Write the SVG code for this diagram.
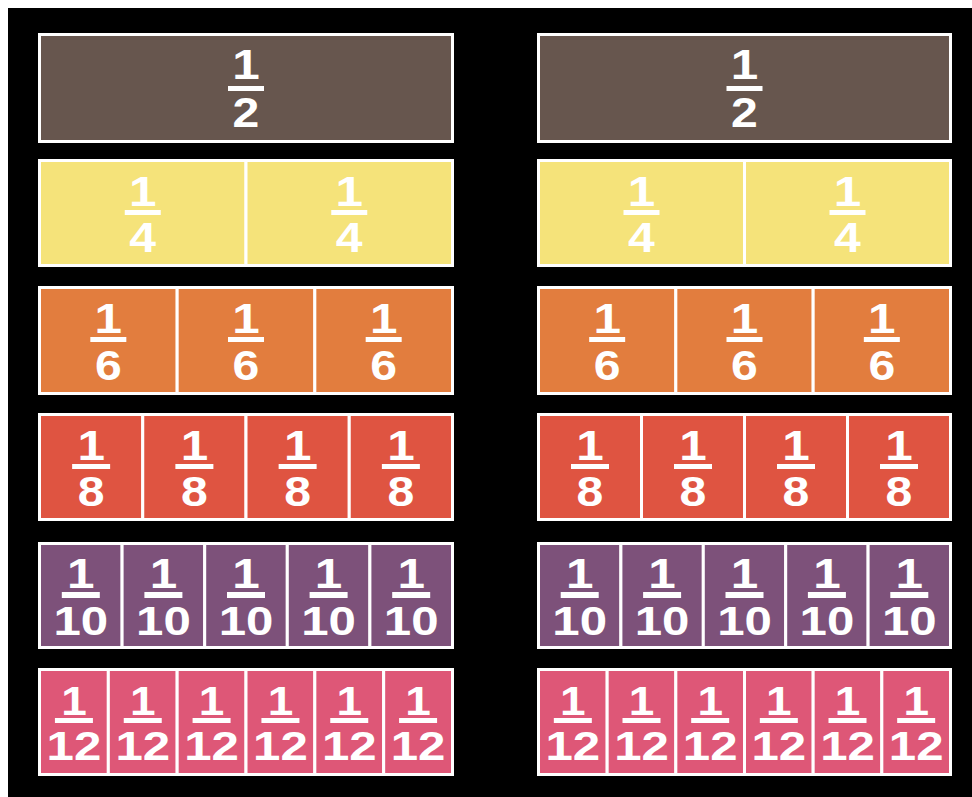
<svg xmlns="http://www.w3.org/2000/svg" width="972" height="797" viewBox="0 0 972 797">
<style>
.c{stroke:#ffffff;stroke-width:3}
.h2{fill:#67564E}.h4{fill:#F5E37A}.h6{fill:#E27D3E}.h8{fill:#DF5441}.h10{fill:#7D517A}.h12{fill:#DE5777}
text{font-family:"Liberation Sans",Arial,sans-serif;font-weight:bold;fill:#ffffff;text-anchor:middle}
.n{font-size:43px;transform:scale(1.15,1)}
.d{font-size:43px;transform:scale(1.12,1)}
.dd{font-size:41px;transform:scale(1.2,1)}
.n6{font-size:40px;transform:scale(1.15,1)}
.b{fill:#ffffff}
</style>
<rect x="0" y="0" width="972" height="797" fill="#ffffff"/>
<rect x="8" y="8" width="964" height="789" fill="#000000"/>

<!-- Row 1: halves -->
<g id="L-half-1"><rect class="c h2" x="39.5" y="34.5" width="413" height="107"/>
<g transform="translate(246,33)"><text class="n" y="46">1</text><rect class="b" x="-18" y="53" width="36" height="5"/><text class="d" y="94">2</text></g></g>
<g id="R-half-1"><rect class="c h2" x="538.5" y="34.5" width="412" height="107"/>
<g transform="translate(744.5,33)"><text class="n" y="46">1</text><rect class="b" x="-18" y="53" width="36" height="5"/><text class="d" y="94">2</text></g></g>

<!-- Row 2: quarters -->
<g id="L-quarter-1"><rect class="c h4" x="39.5" y="160.5" width="206.5" height="105"/>
<g transform="translate(142.75,159)"><text class="n" y="47">1</text><rect class="b" x="-18" y="51" width="36" height="5"/><text class="d" y="93">4</text></g></g>
<g id="L-quarter-2"><rect class="c h4" x="246" y="160.5" width="206.5" height="105"/>
<g transform="translate(349.25,159)"><text class="n" y="47">1</text><rect class="b" x="-18" y="51" width="36" height="5"/><text class="d" y="93">4</text></g></g>
<g id="R-quarter-1"><rect class="c h4" x="538.5" y="160.5" width="206" height="105"/>
<g transform="translate(641.5,159)"><text class="n" y="47">1</text><rect class="b" x="-18" y="51" width="36" height="5"/><text class="d" y="93">4</text></g></g>
<g id="R-quarter-2"><rect class="c h4" x="744.5" y="160.5" width="206" height="105"/>
<g transform="translate(847.5,159)"><text class="n" y="47">1</text><rect class="b" x="-18" y="51" width="36" height="5"/><text class="d" y="93">4</text></g></g>

<!-- Row 3: sixths -->
<g id="L-sixth-1"><rect class="c h6" x="39.5" y="287.5" width="137.67" height="106"/>
<g transform="translate(108.33,286)"><text class="n" y="47">1</text><rect class="b" x="-18" y="51" width="36" height="5"/><text class="d" y="94">6</text></g></g>
<g id="L-sixth-2"><rect class="c h6" x="177.17" y="287.5" width="137.67" height="106"/>
<g transform="translate(246,286)"><text class="n" y="47">1</text><rect class="b" x="-18" y="51" width="36" height="5"/><text class="d" y="94">6</text></g></g>
<g id="L-sixth-3"><rect class="c h6" x="314.83" y="287.5" width="137.67" height="106"/>
<g transform="translate(383.67,286)"><text class="n" y="47">1</text><rect class="b" x="-18" y="51" width="36" height="5"/><text class="d" y="94">6</text></g></g>
<g id="R-sixth-1"><rect class="c h6" x="538.5" y="287.5" width="137.33" height="106"/>
<g transform="translate(607.17,286)"><text class="n" y="47">1</text><rect class="b" x="-18" y="51" width="36" height="5"/><text class="d" y="94">6</text></g></g>
<g id="R-sixth-2"><rect class="c h6" x="675.83" y="287.5" width="137.33" height="106"/>
<g transform="translate(744.5,286)"><text class="n" y="47">1</text><rect class="b" x="-18" y="51" width="36" height="5"/><text class="d" y="94">6</text></g></g>
<g id="R-sixth-3"><rect class="c h6" x="813.17" y="287.5" width="137.33" height="106"/>
<g transform="translate(881.83,286)"><text class="n" y="47">1</text><rect class="b" x="-18" y="51" width="36" height="5"/><text class="d" y="94">6</text></g></g>

<!-- Row 4: eighths -->
<g id="L-eighth-1"><rect class="c h8" x="39.5" y="414.5" width="103.25" height="105"/>
<g transform="translate(91.13,413)"><text class="n" y="47">1</text><rect class="b" x="-19" y="51" width="38" height="5"/><text class="d" y="93">8</text></g></g>
<g id="L-eighth-2"><rect class="c h8" x="142.75" y="414.5" width="103.25" height="105"/>
<g transform="translate(194.38,413)"><text class="n" y="47">1</text><rect class="b" x="-19" y="51" width="38" height="5"/><text class="d" y="93">8</text></g></g>
<g id="L-eighth-3"><rect class="c h8" x="246" y="414.5" width="103.25" height="105"/>
<g transform="translate(297.63,413)"><text class="n" y="47">1</text><rect class="b" x="-19" y="51" width="38" height="5"/><text class="d" y="93">8</text></g></g>
<g id="L-eighth-4"><rect class="c h8" x="349.25" y="414.5" width="103.25" height="105"/>
<g transform="translate(400.88,413)"><text class="n" y="47">1</text><rect class="b" x="-19" y="51" width="38" height="5"/><text class="d" y="93">8</text></g></g>
<g id="R-eighth-1"><rect class="c h8" x="538.5" y="414.5" width="103" height="105"/>
<g transform="translate(590,413)"><text class="n" y="47">1</text><rect class="b" x="-19" y="51" width="38" height="5"/><text class="d" y="93">8</text></g></g>
<g id="R-eighth-2"><rect class="c h8" x="641.5" y="414.5" width="103" height="105"/>
<g transform="translate(693,413)"><text class="n" y="47">1</text><rect class="b" x="-19" y="51" width="38" height="5"/><text class="d" y="93">8</text></g></g>
<g id="R-eighth-3"><rect class="c h8" x="744.5" y="414.5" width="103" height="105"/>
<g transform="translate(796,413)"><text class="n" y="47">1</text><rect class="b" x="-19" y="51" width="38" height="5"/><text class="d" y="93">8</text></g></g>
<g id="R-eighth-4"><rect class="c h8" x="847.5" y="414.5" width="103" height="105"/>
<g transform="translate(899,413)"><text class="n" y="47">1</text><rect class="b" x="-19" y="51" width="38" height="5"/><text class="d" y="93">8</text></g></g>

<!-- Row 5: tenths -->
<g id="L-tenth-1"><rect class="c h10" x="39.5" y="543.5" width="82.6" height="104"/>
<g transform="translate(80.8,542)"><text class="n" y="46">1</text><rect class="b" x="-19" y="50" width="38" height="6"/><text class="dd" y="93">10</text></g></g>
<g id="L-tenth-2"><rect class="c h10" x="122.1" y="543.5" width="82.6" height="104"/>
<g transform="translate(163.4,542)"><text class="n" y="46">1</text><rect class="b" x="-19" y="50" width="38" height="6"/><text class="dd" y="93">10</text></g></g>
<g id="L-tenth-3"><rect class="c h10" x="204.7" y="543.5" width="82.6" height="104"/>
<g transform="translate(246,542)"><text class="n" y="46">1</text><rect class="b" x="-19" y="50" width="38" height="6"/><text class="dd" y="93">10</text></g></g>
<g id="L-tenth-4"><rect class="c h10" x="287.3" y="543.5" width="82.6" height="104"/>
<g transform="translate(328.6,542)"><text class="n" y="46">1</text><rect class="b" x="-19" y="50" width="38" height="6"/><text class="dd" y="93">10</text></g></g>
<g id="L-tenth-5"><rect class="c h10" x="369.9" y="543.5" width="82.6" height="104"/>
<g transform="translate(411.2,542)"><text class="n" y="46">1</text><rect class="b" x="-19" y="50" width="38" height="6"/><text class="dd" y="93">10</text></g></g>
<g id="R-tenth-1"><rect class="c h10" x="538.5" y="543.5" width="82.4" height="104"/>
<g transform="translate(579.7,542)"><text class="n" y="46">1</text><rect class="b" x="-19" y="50" width="38" height="6"/><text class="dd" y="93">10</text></g></g>
<g id="R-tenth-2"><rect class="c h10" x="620.9" y="543.5" width="82.4" height="104"/>
<g transform="translate(662.1,542)"><text class="n" y="46">1</text><rect class="b" x="-19" y="50" width="38" height="6"/><text class="dd" y="93">10</text></g></g>
<g id="R-tenth-3"><rect class="c h10" x="703.3" y="543.5" width="82.4" height="104"/>
<g transform="translate(744.5,542)"><text class="n" y="46">1</text><rect class="b" x="-19" y="50" width="38" height="6"/><text class="dd" y="93">10</text></g></g>
<g id="R-tenth-4"><rect class="c h10" x="785.7" y="543.5" width="82.4" height="104"/>
<g transform="translate(826.9,542)"><text class="n" y="46">1</text><rect class="b" x="-19" y="50" width="38" height="6"/><text class="dd" y="93">10</text></g></g>
<g id="R-tenth-5"><rect class="c h10" x="868.1" y="543.5" width="82.4" height="104"/>
<g transform="translate(909.3,542)"><text class="n" y="46">1</text><rect class="b" x="-19" y="50" width="38" height="6"/><text class="dd" y="93">10</text></g></g>

<!-- Row 6: twelfths -->
<g id="L-twelfth-1"><rect class="c h12" x="39.5" y="669.5" width="68.83" height="105"/>
<g transform="translate(73.92,668)"><text class="n6" y="47">1</text><rect class="b" x="-19" y="50" width="38" height="5"/><text class="dd" y="92">12</text></g></g>
<g id="L-twelfth-2"><rect class="c h12" x="108.33" y="669.5" width="68.83" height="105"/>
<g transform="translate(142.75,668)"><text class="n6" y="47">1</text><rect class="b" x="-19" y="50" width="38" height="5"/><text class="dd" y="92">12</text></g></g>
<g id="L-twelfth-3"><rect class="c h12" x="177.17" y="669.5" width="68.83" height="105"/>
<g transform="translate(211.58,668)"><text class="n6" y="47">1</text><rect class="b" x="-19" y="50" width="38" height="5"/><text class="dd" y="92">12</text></g></g>
<g id="L-twelfth-4"><rect class="c h12" x="246" y="669.5" width="68.83" height="105"/>
<g transform="translate(280.42,668)"><text class="n6" y="47">1</text><rect class="b" x="-19" y="50" width="38" height="5"/><text class="dd" y="92">12</text></g></g>
<g id="L-twelfth-5"><rect class="c h12" x="314.83" y="669.5" width="68.83" height="105"/>
<g transform="translate(349.25,668)"><text class="n6" y="47">1</text><rect class="b" x="-19" y="50" width="38" height="5"/><text class="dd" y="92">12</text></g></g>
<g id="L-twelfth-6"><rect class="c h12" x="383.67" y="669.5" width="68.83" height="105"/>
<g transform="translate(418.08,668)"><text class="n6" y="47">1</text><rect class="b" x="-19" y="50" width="38" height="5"/><text class="dd" y="92">12</text></g></g>
<g id="R-twelfth-1"><rect class="c h12" x="538.5" y="669.5" width="68.67" height="105"/>
<g transform="translate(572.83,668)"><text class="n6" y="47">1</text><rect class="b" x="-19" y="50" width="38" height="5"/><text class="dd" y="92">12</text></g></g>
<g id="R-twelfth-2"><rect class="c h12" x="607.17" y="669.5" width="68.67" height="105"/>
<g transform="translate(641.5,668)"><text class="n6" y="47">1</text><rect class="b" x="-19" y="50" width="38" height="5"/><text class="dd" y="92">12</text></g></g>
<g id="R-twelfth-3"><rect class="c h12" x="675.83" y="669.5" width="68.67" height="105"/>
<g transform="translate(710.17,668)"><text class="n6" y="47">1</text><rect class="b" x="-19" y="50" width="38" height="5"/><text class="dd" y="92">12</text></g></g>
<g id="R-twelfth-4"><rect class="c h12" x="744.5" y="669.5" width="68.67" height="105"/>
<g transform="translate(778.83,668)"><text class="n6" y="47">1</text><rect class="b" x="-19" y="50" width="38" height="5"/><text class="dd" y="92">12</text></g></g>
<g id="R-twelfth-5"><rect class="c h12" x="813.17" y="669.5" width="68.67" height="105"/>
<g transform="translate(847.5,668)"><text class="n6" y="47">1</text><rect class="b" x="-19" y="50" width="38" height="5"/><text class="dd" y="92">12</text></g></g>
<g id="R-twelfth-6"><rect class="c h12" x="881.83" y="669.5" width="68.67" height="105"/>
<g transform="translate(916.17,668)"><text class="n6" y="47">1</text><rect class="b" x="-19" y="50" width="38" height="5"/><text class="dd" y="92">12</text></g></g>

<g id="connectors"></g>
</svg>
